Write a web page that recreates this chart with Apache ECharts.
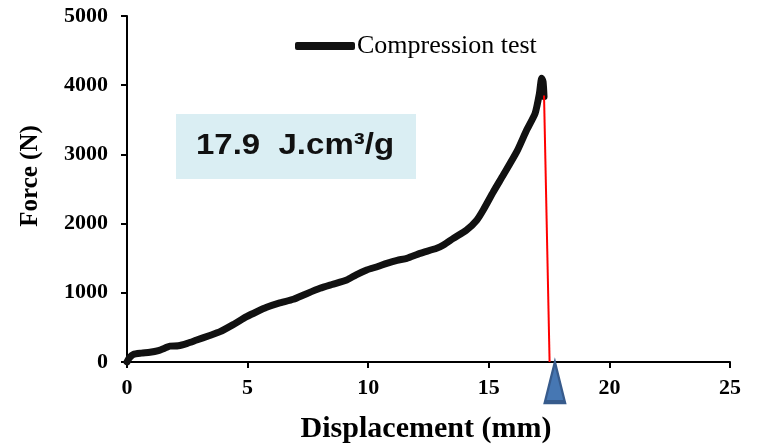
<!DOCTYPE html>
<html>
	<head>
		<meta charset="UTF-8">
		<title></title>
		<script src="https://cdn.jsdelivr.net/npm/echarts@6/dist/echarts.min.js"></script>
		<style>
			html, body { margin: 0; padding: 0; background: #fff; }
			#main { width: 759px; height: 448px; }
		</style>
	</head>
	<body>
		<div id="main"></div>
		<script>
			// 位移 (mm) 和 力 (N)
			var dispX = [0, 0.1, 0.26, 0.6, 0.95, 1.3, 1.6, 1.78, 2.13, 2.5, 2.89, 3.4, 3.86, 4.4, 4.96, 5.4, 5.79, 6.3, 6.9, 7.4, 8.0, 8.5, 9.11, 9.5, 9.94, 10.4, 10.77, 11.2, 11.6, 12.15, 12.84, 13.12, 13.53, 14.08, 14.5, 14.77, 15.19, 15.6, 16.16, 16.57, 16.92, 17.1, 17.19, 17.25, 17.29];
			var force = [0, 60, 110, 128, 140, 165, 205, 230, 235, 270, 318, 380, 438, 540, 655, 730, 790, 850, 906, 980, 1065, 1120, 1185, 1260, 1330, 1380, 1426, 1470, 1498, 1570, 1643, 1690, 1787, 1908, 2050, 2197, 2461, 2702, 3039, 3353, 3594, 3883, 4100, 4050, 3834];
			// 断裂线 (红色) 和 三角标记
			var breakX = [17.29, 17.52];
			var breakY = [3850, 0];
			var markerPos = [17.74, -290];
			var xTicks = [0, 5, 10, 15, 20, 25];
			var yTicks = [0, 1000, 2000, 3000, 4000, 5000];
			var energyText = '17.9  J.cm\u00b3/g';

			var curve = dispX.map(function(x, i) { return [x, force[i]]; });
			var breakLine = breakX.map(function(x, i) { return [x, breakY[i]]; });

			var serif = '"Times New Roman", "Liberation Serif", serif';
			var myChart = echarts.init(document.getElementById('main'));

			var option = {
				animation: false,
				grid: { left: 127, right: 29, top: 16, bottom: 86 },
				legend: {
					data: ['Compression test'],
					left: 290,
					top: 28,
					icon: 'roundRect',
					itemWidth: 60,
					itemHeight: 8,
					textStyle: { fontFamily: serif, fontSize: 26, color: '#000', padding: [0, 0, 0, -3] }
				},
				xAxis: {
					type: 'value',
					min: xTicks[0],
					max: xTicks[xTicks.length - 1],
					interval: 5,
					axisLine: { onZero: false, lineStyle: { color: '#000', width: 2 } },
					axisTick: { show: true, length: 6, lineStyle: { color: '#000', width: 2 } },
					axisLabel: { margin: 15, fontFamily: serif, fontWeight: 'bold', fontSize: 22, color: '#000',
						formatter: function(v) { return String(v); } },
					splitLine: { show: false }
				},
				yAxis: {
					type: 'value',
					min: yTicks[0],
					max: yTicks[yTicks.length - 1],
					interval: 1000,
					axisLine: { show: true, lineStyle: { color: '#000', width: 2 } },
					axisTick: { show: true, length: 6, lineStyle: { color: '#000', width: 2 } },
					axisLabel: { margin: 19, fontFamily: serif, fontWeight: 'bold', fontSize: 22, color: '#000',
						formatter: function(v) { return String(v); } },
					splitLine: { show: false }
				},
				graphic: [
					{
						type: 'text', x: 426, y: 429,
						style: { text: 'Displacement (mm)', font: 'bold 30px ' + serif, fill: '#000', textAlign: 'center', textVerticalAlign: 'middle' }
					},
					{
						type: 'text', x: 31, y: 176, rotation: Math.PI / 2,
						style: { text: 'Force (N)', font: 'bold 25px ' + serif, fill: '#000', textAlign: 'center', textVerticalAlign: 'middle' }
					},
					{
						type: 'rect', shape: { x: 176, y: 114, width: 240, height: 65 },
						style: { fill: '#daeef3' }, z: 100
					},
					{
						type: 'text', x: 295, y: 146, z: 101, scaleX: 1.1,
						style: { text: energyText, font: 'bold 30px "Liberation Sans", Arial, sans-serif', fill: '#111', textAlign: 'center', textVerticalAlign: 'middle' }
					}
				],
				series: [{
					name: 'Compression test',
					type: 'line',
					data: curve,
					smooth: 0.2,
					showSymbol: false,
					itemStyle: { color: '#111' },
					lineStyle: { color: '#111', width: 7, cap: 'round', join: 'round' }
				}, {
					name: 'break',
					type: 'line',
					data: breakLine,
					showSymbol: false,
					clip: false,
					lineStyle: { color: '#ff0000', width: 2 }
				}, {
					name: 'marker',
					type: 'scatter',
					data: [markerPos],
					clip: false,
					symbol: 'triangle',
					symbolSize: [20, 40],
					itemStyle: { color: '#4677b3', borderColor: '#375b8c', borderWidth: 3, opacity: 1 },
					z: 5
				}]
			};

			myChart.setOption(option);
		</script>
	</body>
</html>
